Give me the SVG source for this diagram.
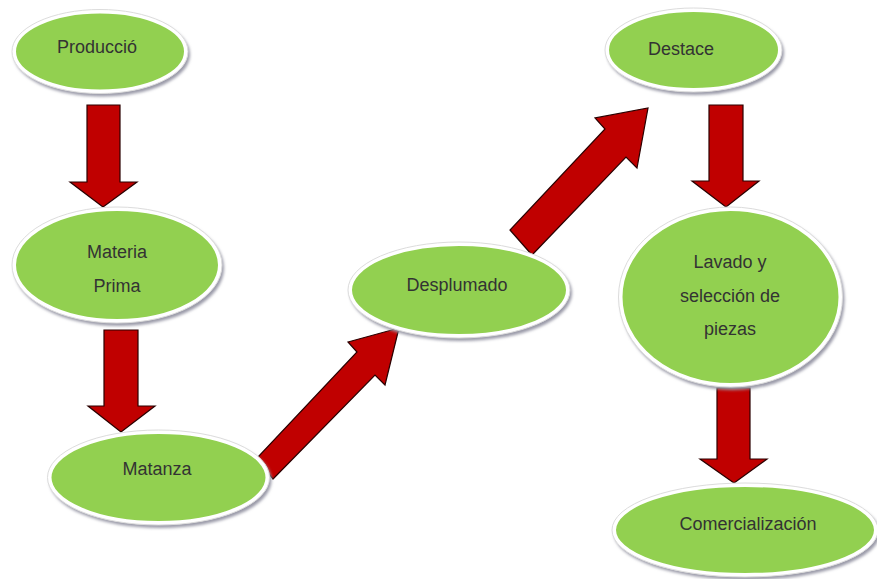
<svg xmlns="http://www.w3.org/2000/svg" width="877" height="579" viewBox="0 0 877 579">
<defs>
<filter id="sh" x="-10%" y="-10%" width="120%" height="130%">
<feGaussianBlur stdDeviation="1.5"/>
</filter>
</defs>
<style>
.shadow{fill:#9a9aa8;filter:url(#sh);}
.node{fill:#92d050;stroke:#ffffff;stroke-width:4;}
.rim{fill:none;stroke:#dcdcdc;stroke-width:1;}
.lbl{font-family:"Liberation Sans",Arial,sans-serif;font-size:18px;fill:#333333;text-anchor:middle;}
.arrow{fill:#c00000;stroke:#2a0000;stroke-width:1.2;stroke-linejoin:miter;}
</style>
<rect width="877" height="579" fill="#ffffff"/>
<g id="connectors">
<polygon class="arrow" points="87,105 120,105 120,182 137,182 103,207 70,182 87,182"/>
<polygon class="arrow" points="104,330 138,330 138,406 155,406 121,432 88,406 104,406"/>
<polygon class="arrow" points="257,458 273,479 375,375 385,385 399,328 348,342 357,352"/>
<polygon class="arrow" points="510,230 532,255 626,157 637,168 648,108 595,118 605,129"/>
<polygon class="arrow" points="709,105 743,105 743,181 759,181 726,207 692,181 709,181"/>
<polygon class="arrow" points="717,388 750,388 750,459 767,459 734,483 700,459 717,459"/>
</g>
<g id="n1">
<ellipse class="shadow" cx="102" cy="54.5" rx="88" ry="42"/>
<ellipse class="node" cx="100" cy="51.5" rx="86" ry="40"/>
<ellipse class="rim" cx="100" cy="51.5" rx="88" ry="42"/>
<text class="lbl" x="97" y="53">Producció</text>
</g>
<g id="n2">
<ellipse class="shadow" cx="119" cy="268" rx="105" ry="58"/>
<ellipse class="node" cx="117" cy="265" rx="103" ry="56"/>
<ellipse class="rim" cx="117" cy="265" rx="105" ry="58"/>
<text class="lbl" x="117" y="258">Materia</text>
<text class="lbl" x="117" y="292">Prima</text>
</g>
<g id="n3">
<ellipse class="shadow" cx="160.5" cy="480.5" rx="111" ry="47.5"/>
<ellipse class="node" cx="158.5" cy="477.5" rx="109" ry="45.5"/>
<ellipse class="rim" cx="158.5" cy="477.5" rx="111" ry="47.5"/>
<text class="lbl" x="157" y="475">Matanza</text>
</g>
<g id="n4">
<ellipse class="shadow" cx="461" cy="293" rx="111" ry="48"/>
<ellipse class="node" cx="459" cy="290" rx="109" ry="46"/>
<ellipse class="rim" cx="459" cy="290" rx="111" ry="48"/>
<text class="lbl" x="457" y="291">Desplumado</text>
</g>
<g id="n5">
<ellipse class="shadow" cx="695.5" cy="53" rx="88.5" ry="42"/>
<ellipse class="node" cx="693.5" cy="50" rx="86.5" ry="40"/>
<ellipse class="rim" cx="693.5" cy="50" rx="88.5" ry="42"/>
<text class="lbl" x="681" y="55">Destace</text>
</g>
<g id="n6">
<ellipse class="shadow" cx="732.5" cy="300" rx="112" ry="90"/>
<ellipse class="node" cx="730.5" cy="297" rx="110" ry="88"/>
<ellipse class="rim" cx="730.5" cy="297" rx="112" ry="90"/>
<text class="lbl" x="730" y="268">Lavado y</text>
<text class="lbl" x="730" y="302">selección de</text>
<text class="lbl" x="730" y="335">piezas</text>
</g>
<g id="n7">
<ellipse class="shadow" cx="747" cy="533" rx="133" ry="47"/>
<ellipse class="node" cx="745" cy="530" rx="131" ry="45"/>
<ellipse class="rim" cx="745" cy="530" rx="133" ry="47"/>
<text class="lbl" x="748" y="530">Comercialización</text>
</g>
</svg>
